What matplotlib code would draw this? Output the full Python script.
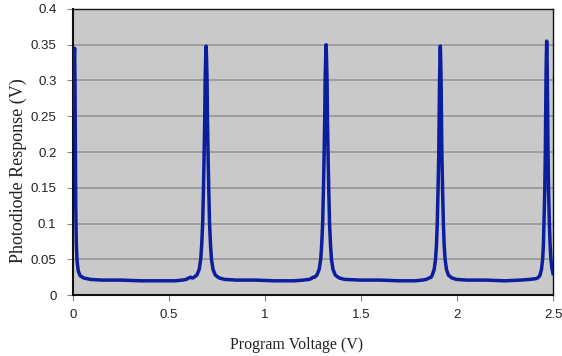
import matplotlib
matplotlib.use("Agg")
import matplotlib.pyplot as plt

# traced points of the photodiode trace (V vs V)
voltage = [0.004, 0.005, 0.006, 0.008, 0.010, 0.012, 0.014, 0.017, 0.021, 0.027, 0.037, 0.055, 0.09,
           0.15, 0.25, 0.35, 0.45, 0.53, 0.57, 0.59, 0.603, 0.612, 0.620, 0.625,
           0.645, 0.657, 0.665, 0.670, 0.675, 0.679, 0.683, 0.686, 0.688, 0.6906, 0.693, 0.6954, 0.698,
           0.700, 0.703, 0.707, 0.711, 0.716, 0.721, 0.729, 0.741, 0.761, 0.789,
           0.85, 0.95, 1.05, 1.15, 1.20, 1.23, 1.240, 1.250, 1.258,
           1.270, 1.282, 1.290, 1.295, 1.300, 1.304, 1.308, 1.311, 1.313, 1.3156, 1.318, 1.3204, 1.323,
           1.325, 1.328, 1.332, 1.336, 1.341, 1.346, 1.354, 1.366, 1.386, 1.414,
           1.50, 1.60, 1.70, 1.78, 1.82, 1.84, 1.855, 1.865,
           1.871, 1.881, 1.888, 1.893, 1.897, 1.901, 1.905, 1.907, 1.909, 1.911, 1.913, 1.915, 1.917,
           1.919, 1.921, 1.925, 1.929, 1.933, 1.938, 1.945, 1.955, 1.973, 1.997,
           2.05, 2.15, 2.25, 2.33, 2.38, 2.41, 2.42,
           2.431, 2.440, 2.446, 2.450, 2.453, 2.457, 2.460, 2.4616, 2.4634, 2.465, 2.467, 2.469, 2.4706,
           2.4724, 2.474, 2.477, 2.481, 2.485, 2.489, 2.494, 2.500]
response = [0.262, 0.300, 0.330, 0.345, 0.300, 0.200, 0.125, 0.072, 0.047, 0.034, 0.027, 0.024, 0.022,
            0.021, 0.021, 0.020, 0.020, 0.020, 0.021, 0.022, 0.024, 0.025, 0.024, 0.024,
            0.028, 0.036, 0.050, 0.070, 0.100, 0.145, 0.200, 0.250, 0.300, 0.330, 0.348, 0.330, 0.300,
            0.250, 0.200, 0.145, 0.100, 0.070, 0.050, 0.036, 0.028, 0.024, 0.022,
            0.021, 0.021, 0.020, 0.020, 0.021, 0.022, 0.023, 0.025, 0.025,
            0.028, 0.036, 0.050, 0.070, 0.100, 0.145, 0.200, 0.250, 0.300, 0.330, 0.350, 0.330, 0.300,
            0.250, 0.200, 0.145, 0.100, 0.070, 0.050, 0.036, 0.028, 0.024, 0.022,
            0.021, 0.021, 0.020, 0.020, 0.021, 0.022, 0.024, 0.025,
            0.028, 0.036, 0.050, 0.070, 0.100, 0.145, 0.200, 0.250, 0.300, 0.330, 0.348, 0.330, 0.300,
            0.250, 0.200, 0.145, 0.100, 0.070, 0.050, 0.036, 0.028, 0.024, 0.022,
            0.021, 0.021, 0.020, 0.021, 0.022, 0.023, 0.024,
            0.027, 0.036, 0.050, 0.070, 0.100, 0.145, 0.200, 0.250, 0.300, 0.330, 0.355, 0.330, 0.300,
            0.250, 0.200, 0.145, 0.100, 0.070, 0.050, 0.038, 0.030]

x_ticks = [0, 0.5, 1, 1.5, 2, 2.5]
x_labels = ["0", "0.5", "1", "1.5", "2", "2.5"]
y_ticks = [0, 0.05, 0.1, 0.15, 0.2, 0.25, 0.3, 0.35, 0.4]
y_labels = ["0", "0.05", "0.1", "0.15", "0.2", "0.25", "0.3", "0.35", "0.4"]

fig = plt.figure(figsize=(5.62, 3.56), dpi=100)
ax = fig.add_axes([0.130, 0.171, 0.854, 0.804])
ax.set_facecolor("#c9c9c9")

for y in y_ticks[1:-1]:
    ax.axhline(y, color="#9a9a9a", linewidth=1.3, zorder=1)

ax.plot(voltage, response, color="#0a1e9e", linewidth=2.5, solid_joinstyle="round", zorder=3)

ax.set_xlim(0, 2.5)
ax.set_ylim(0, 0.4)
ax.set_xticks(x_ticks)
ax.set_xticklabels(x_labels)
ax.set_yticks(y_ticks)
ax.set_yticklabels(y_labels)
ax.tick_params(labelsize=9.5, length=4, width=0.8, color="#888888")
ax.tick_params(axis="x", pad=6)
ax.tick_params(axis="y", pad=8)
for lab in ax.get_xticklabels() + ax.get_yticklabels():
    lab.set_family("Liberation Sans")
    lab.set_color("#222222")

ax.spines["left"].set_linewidth(1.5)
ax.spines["bottom"].set_linewidth(1.5)
ax.spines["top"].set_linewidth(1.0)
ax.spines["right"].set_linewidth(1.0)
for s in ax.spines.values():
    s.set_color("#111111")

ax.set_xlabel("Program Voltage (V)", family="Liberation Serif", fontsize=11.5, color="#222222", va="center")
ax.xaxis.set_label_coords(0.465, -0.175)
ax.set_ylabel("Photodiode Response (V)", family="Liberation Serif", fontsize=13, color="#222222", va="center")
ax.yaxis.set_label_coords(-0.113, 0.434)

fig.savefig("out.png", dpi=100)
